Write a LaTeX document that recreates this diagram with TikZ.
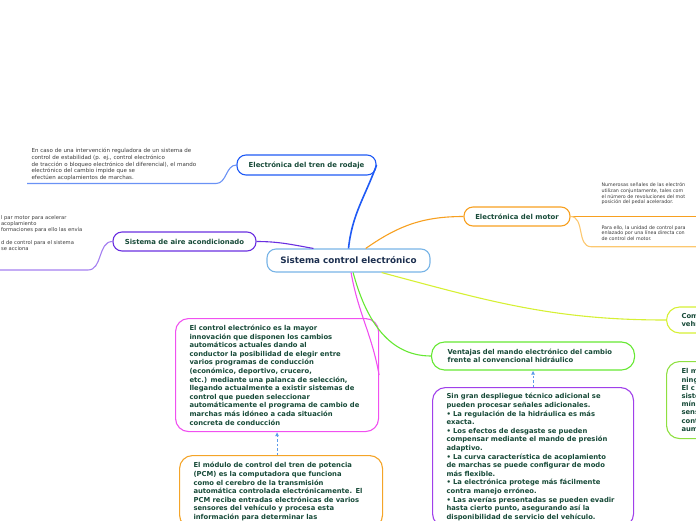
\documentclass[tikz,border=0pt]{standalone}
\usepackage{fontspec}
\setmainfont{DejaVu Sans}
\usetikzlibrary{arrows.meta}
\definecolor{skyline}{HTML}{78B4E6}
\definecolor{navytext}{HTML}{1C2F4F}
\definecolor{greentext}{HTML}{174A38}
\definecolor{notetext}{HTML}{3A3A3A}
\definecolor{treeblue}{HTML}{1F5AF5}
\definecolor{treelight}{HTML}{6A92F5}
\definecolor{airpurple}{HTML}{6A2FE0}
\definecolor{airlight}{HTML}{A47FF0}
\definecolor{motororange}{HTML}{F7A020}
\definecolor{motorlight}{HTML}{FCC870}
\definecolor{limeline}{HTML}{D6F034}
\definecolor{greenline}{HTML}{66E833}
\definecolor{greenbox}{HTML}{8EE040}
\definecolor{violetbox}{HTML}{A040EA}
\definecolor{pinkline}{HTML}{F050F0}
\definecolor{orangebox}{HTML}{F4A428}
\definecolor{linkblue}{HTML}{5B9BE8}

\begin{document}
\begin{tikzpicture}[x=1pt, y=1pt, line width=1.1pt,
    main/.style = {draw, rounded corners=9pt, align=center, text=greentext, font=\bfseries\fontsize{6.9}{8.6}\selectfont},
    box/.style = {draw, rounded corners=13pt, align=left, text=greentext, inner xsep=14pt, inner ysep=6pt, font=\bfseries\fontsize{6.8}{8.6}\selectfont},
    note/.style = {align=left, text=notetext, inner xsep=4pt, inner ysep=2.5pt},
    link/.style = {linkblue, line width=0.8pt, dash pattern=on 2.5pt off 2pt, -{Latex[length=4pt,width=4pt]}}]
            \clip (0,0) rectangle (696,-520);
            \node[main, draw=skyline, text=navytext, minimum width=163pt, minimum height=23pt, font=\bfseries\fontsize{8.8}{10}\selectfont] (1) at (348.5,-260.5) {Sistema control electrónico};
            \node[main, draw=treeblue, minimum width=139pt, minimum height=20pt] (2) at (306.5,-165) {Electrónica del tren de rodaje};
            \node[main, draw=airpurple, minimum width=143pt, minimum height=19pt] (3) at (184.5,-241.5) {Sistema de aire acondicionado};
            \node[main, draw=motororange, minimum width=106pt, minimum height=19pt] (4) at (517,-216.5) {Electrónica del motor};
            \node[box, draw=pinkline, anchor=north west, text width=175pt, minimum height=113pt] (5) at (175,-318) {El control electrónico es la mayor\\innovación que disponen los cambios\\automáticos actuales dando al\\conductor la posibilidad de elegir entre\\varios programas de conducción\\(económico, deportivo, crucero,\\etc.) mediante una palanca de selección,\\llegando actualmente a existir sistemas de\\control que pueden seleccionar\\automáticamente el programa de cambio de\\marchas más idóneo a cada situación\\concreta de conducción};
            \node[box, draw=orangebox, anchor=north west, text width=175pt, inner ysep=7pt] (6) at (179,-455) {El módulo de control del tren de potencia\\(PCM) es la computadora que funciona\\como el cerebro de la transmisión\\automática controlada electrónicamente. El\\PCM recibe entradas electrónicas de varios\\sensores del vehículo y procesa esta\\información para determinar las};
            \node[box, draw=greenline, anchor=west, text width=171pt, inner xsep=16pt, minimum height=28pt] (7) at (431,-356) {Ventajas del mando electrónico del cambio\\frente al convencional hidráulico};
            \node[box, draw=violetbox, anchor=north west, text width=173pt] (8) at (432,-387) {Sin gran despliegue técnico adicional se\\pueden procesar señales adicionales.\\• La regulación de la hidráulica es más\\exacta.\\• Los efectos de desgaste se pueden\\compensar mediante el mando de presión\\adaptivo.\\• La curva característica de acoplamiento\\de marchas se puede configurar de modo\\más flexible.\\• La electrónica protege más fácilmente\\contra manejo erróneo.\\• Las averías presentadas se pueden evadir\\hasta cierto punto, asegurando así la\\disponibilidad de servicio del vehículo.};
            \node[box, draw=limeline, anchor=west, text width=60pt, inner xsep=15pt, minimum height=26pt, font=\bfseries\fontsize{6.8}{8}\selectfont] (9) at (666,-320) {Com\\vehí};
            \node[box, draw=greenbox, anchor=north west, text width=60pt, inner xsep=15pt, minimum height=77pt, font=\bfseries\fontsize{6.8}{8.2}\selectfont] (10) at (666,-361) {El m\\ning\\El c\\siste\\mín\\sens\\cont\\aum};
            \node[note, anchor=south west, text width=180pt, font=\fontsize{5.5}{6.6}\selectfont] (11) at (27,-183.5) {En caso de una intervención reguladora de un sistema de\\control de estabilidad (p. ej., control electrónico\\de tracción o bloqueo electrónico del diferencial), el mando\\electrónico del cambio impide que se\\efectúen acoplamientos de marchas.};
            \node[note, anchor=north west, inner sep=0pt, font=\fontsize{5.2}{6.3}\selectfont] (12) at (0.5,-214.5) {l par motor para acelerar\\acoplamiento\\formaciones para ello las envía\\[6.3pt]d de control para el sistema\\se acciona};
            \coordinate (13) at (0,-270);
            \node[note, anchor=north west, inner sep=0pt, font=\fontsize{4.8}{5.7}\selectfont] (14) at (601,-182.5) {Numerosas señales de las electrón\\utilizan conjuntamente, tales com\\el número de revoluciones del mot\\posición del pedal acelerador.};
            \node[note, anchor=north west, inner sep=0pt, font=\fontsize{4.8}{5.6}\selectfont] (15) at (601,-225) {Para ello, la unidad de control para\\enlazado por una línea directa con\\de control del motor.};
            \coordinate (16) at (591,-246.7);
            \draw[treeblue, line width=1.6pt] (1.north) to[out=84,in=250] (2.east);
            \draw[treelight] (11.south west) -- (11.south east) to[out=0,in=180] (2.west);
            \draw[airpurple] (1.161) to[out=170,in=0] (3.east);
            \draw[airlight] (13) -- ++(88,0) to[out=0,in=180] (3.west);
            \draw[motororange] (1.35) to[out=35,in=180] (4.west);
            \draw[motororange] (4.east) -- ++(140,0);
            \draw[motorlight] (4.east) to[out=0,in=180] (16) -- ++(120,0);
            \draw[limeline] (1.-20) to[out=-15,in=180] (9.west);
            \draw[greenline] (1.-69) to[out=-75,in=180] (7.west);
            \draw[pinkline] (1.-78) to[out=-80,in=100] (5.east);
            \path [link] (6.north -| 5.south) edge (5.south);
            \path [link] (8.north -| 7.south) edge (7.south);
\end{tikzpicture}
\end{document}
